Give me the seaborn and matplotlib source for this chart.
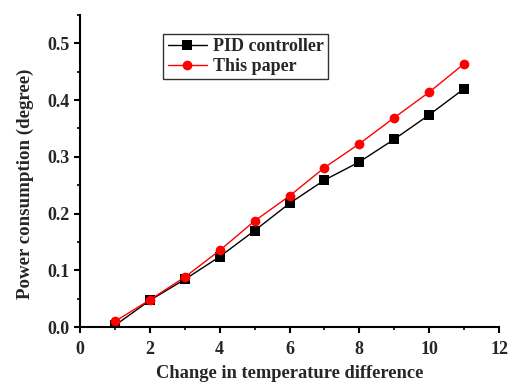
import matplotlib
matplotlib.use('Agg')
import matplotlib.pyplot as plt
import seaborn as sns
import pandas as pd
from matplotlib.ticker import MultipleLocator

# Data
temp_diff = [1, 2, 3, 4, 5, 6, 7, 8, 9, 10, 11]
pid_power = [0.003, 0.047, 0.084, 0.124, 0.170, 0.218, 0.259, 0.291, 0.331, 0.374, 0.420]
paper_power = [0.010, 0.048, 0.088, 0.135, 0.187, 0.231, 0.281, 0.323, 0.369, 0.414, 0.464]

df = pd.DataFrame({
    'x': temp_diff * 2,
    'y': pid_power + paper_power,
    'method': ['PID controller'] * len(temp_diff) + ['This paper'] * len(temp_diff),
})

sns.set_style('ticks')
plt.rcParams['font.family'] = ['Liberation Serif', 'DejaVu Serif']
plt.rcParams['font.weight'] = 'bold'

fig = plt.figure(figsize=(5.11, 3.83), dpi=100)
ax = fig.add_axes([0.1566, 0.146, 0.82, 0.815])

sns.lineplot(data=df, x='x', y='y', hue='method', style='method',
             palette={'PID controller': 'black', 'This paper': 'red'},
             markers={'PID controller': 's', 'This paper': 'o'},
             dashes=False, markersize=7, markeredgewidth=0, linewidth=1, ax=ax)

ax.set_xlim(0, 12)
ax.set_ylim(0, 0.55)
ax.xaxis.set_major_locator(MultipleLocator(2))
ax.xaxis.set_minor_locator(MultipleLocator(1))
ax.yaxis.set_minor_locator(MultipleLocator(0.05))
ax.set_yticks([0, 0.1, 0.2, 0.3, 0.4, 0.5])
ax.set_yticklabels(['0.0', '0.1', '0.2', '0.3', '0.4', '0.5'])

ax.tick_params(axis='both', which='major', direction='out', length=4, width=1.5,
               labelsize=13, color='black')
ax.tick_params(axis='x', which='major', pad=6)
ax.tick_params(axis='both', which='minor', direction='out', length=2.5, width=1.2, color='black')
for lab in ax.get_xticklabels() + ax.get_yticklabels():
    lab.set_fontweight('bold')

for s in ['left', 'bottom']:
    ax.spines[s].set_linewidth(1.5)
    ax.spines[s].set_color('black')
ax.spines['top'].set_visible(False)
ax.spines['right'].set_visible(False)

ax.set_xlabel('Change in temperature difference', fontsize=13.3, fontweight='bold', labelpad=5)
ax.set_ylabel('Power consumption (degree)', fontsize=13.6, fontweight='bold')
ax.yaxis.set_label_coords(-0.111, 0.458)

leg = ax.legend(loc='upper left', bbox_to_anchor=(0.198, 0.94), frameon=True, fancybox=False,
                edgecolor='black', fontsize=13, handlelength=2.2, borderpad=0.25,
                labelspacing=0.15, handletextpad=0.3, borderaxespad=0)
leg.get_frame().set_linewidth(1)
for t in leg.get_texts():
    t.set_fontweight('bold')

fig.savefig('out.png', dpi=100)
